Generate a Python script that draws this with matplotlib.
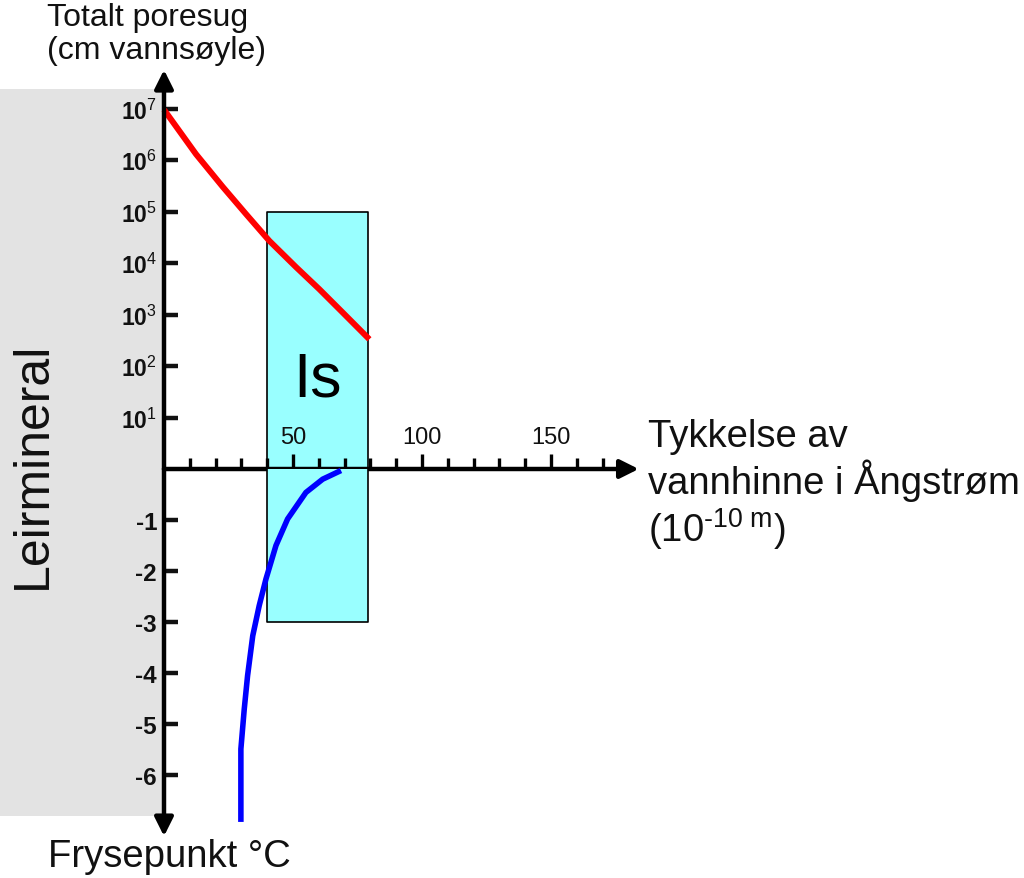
import matplotlib
matplotlib.use("Agg")
import matplotlib.pyplot as plt
from matplotlib.patches import Rectangle
from matplotlib.ticker import NullLocator

plt.rcParams['font.family'] = ['Liberation Sans', 'DejaVu Sans']
plt.rcParams['mathtext.fontset'] = 'custom'
plt.rcParams['mathtext.rm'] = 'Liberation Sans'
plt.rcParams['mathtext.it'] = 'Liberation Sans:italic'
plt.rcParams['mathtext.bf'] = 'Liberation Sans:bold'

# Pore suction (cm water column) vs water film thickness (Angstrom)
suction_x = [0, 12.4, 22.8, 31.8, 40.8, 51.2, 60.2, 69.2, 79.6]
suction_y = [9.5e6, 1.3e6, 3.0e5, 8.9e4, 2.7e4, 8.3e3, 3.1e3, 1.1e3, 330]

# Freezing point (deg C) vs water film thickness (Angstrom)
freeze_x = [68.6, 61.5, 55.0, 47.9, 43.4, 39.5, 36.9, 34.4, 32.4, 31.1, 29.8, 29.8]
freeze_t = [-0.03, -0.2, -0.46, -0.98, -1.50, -2.16, -2.68, -3.27, -4.05, -4.71, -5.49, -6.92]

# Ice zone
ice_x = [40, 79]
ice_suction_top = 1e5
ice_temp_bottom = -3

# Axis ticks
suction_exps = [1, 2, 3, 4, 5, 6, 7]
temp_ticks = [-1, -2, -3, -4, -5, -6]
thick_minor = list(range(10, 180, 10))
thick_major = [50, 100, 150]

W, H = 1024, 879
fig = plt.figure(figsize=(W / 100, H / 100), dpi=100)

# grey clay mineral band
fig.patches.append(Rectangle((0, (H - 817) / H), 164 / W, (817 - 90) / H,
                             transform=fig.transFigure, facecolor='#e3e3e3',
                             edgecolor='none', zorder=-5))

x0, x1 = 164, 646
xmax = (x1 - x0) / 2.58
ax = fig.add_axes([x0 / W, (H - 470) / H, (x1 - x0) / W, 410 / H])
axb = fig.add_axes([x0 / W, (H - 840) / H, (x1 - x0) / W, 370 / H])

for a in (ax, axb):
    a.set_facecolor('none')
    for s in a.spines.values():
        s.set_visible(False)
    a.set_xlim(0, xmax)

ax.set_yscale('log')
ax.set_ylim(1, 10 ** (410 / 51.5))
axb.set_ylim(-370 / 51, 0)

# ice box
ax.add_patch(Rectangle((ice_x[0], 1), ice_x[1] - ice_x[0], ice_suction_top - 1,
                       facecolor='#99ffff', edgecolor='none', zorder=1))
ax.plot([ice_x[0], ice_x[0], ice_x[1], ice_x[1]], [1, ice_suction_top, ice_suction_top, 1],
        color='black', lw=1.2, zorder=1.5, clip_on=False)
axb.add_patch(Rectangle((ice_x[0], ice_temp_bottom), ice_x[1] - ice_x[0], -ice_temp_bottom,
                        facecolor='#99ffff', edgecolor='none', zorder=1))
axb.plot([ice_x[0], ice_x[0], ice_x[1], ice_x[1]], [0, ice_temp_bottom, ice_temp_bottom, 0],
         color='black', lw=1.2, zorder=1.5, clip_on=False)
ax.text(sum(ice_x) / 2, 10 ** 1.75, 'Is', fontsize=45, ha='center', va='center', zorder=5)

# curves
ax.plot(suction_x, suction_y, color='#ff0000', lw=4.3, zorder=3, clip_on=False,
        solid_capstyle='butt', solid_joinstyle='round')
axb.plot(freeze_x, freeze_t, color='#0000ff', lw=4.0, zorder=3, clip_on=False,
         solid_capstyle='butt', solid_joinstyle='round')

# axis lines with arrows
arr = dict(arrowstyle='-|>', lw=3.2, color='black', mutation_scale=28,
           shrinkA=0, shrinkB=0)
ax.annotate('', xy=(0, 10 ** 7.75), xytext=(0, 1), arrowprops=arr,
            annotation_clip=False, zorder=4)
ax.annotate('', xy=(184, 1), xytext=(0, 1), arrowprops=arr,
            annotation_clip=False, zorder=4)
axb.annotate('', xy=(0, -7.2), xytext=(0, 0), arrowprops=arr,
             annotation_clip=False, zorder=4)

# y ticks
ax.yaxis.set_minor_locator(NullLocator())
ax.set_yticks([10 ** e for e in suction_exps])
ax.set_yticklabels([rf'$\mathbf{{10}}^{{\mathrm{{{e}}}}}$' for e in suction_exps],
                   fontsize=16.5, fontweight='bold')
axb.set_yticks(temp_ticks)
axb.set_yticklabels([str(t) for t in temp_ticks], fontsize=17.5, fontweight='bold')
for a in (ax, axb):
    a.tick_params(axis='y', direction='in', length=10, width=3.2, pad=5, colors='#111111')

# x ticks on the thickness axis
ax.set_xticks(thick_major)
ax.set_xticks([v for v in thick_minor if v not in thick_major], minor=True)
ax.set_xticklabels([])
ax.tick_params(axis='x', which='major', direction='in', length=11, width=2.4)
ax.tick_params(axis='x', which='minor', direction='in', length=8, width=2.4)
axb.set_xticks([])
for v in thick_major:
    ax.text(v, 10 ** 0.62, str(v), fontsize=17, ha='center', va='center', color='#111111')

# labels
fig.text(47 / W, 1 - 3 / H, 'Totalt poresug\n(cm vannsøyle)', fontsize=23,
         ha='left', va='top', linespacing=1.12, color='#111111')
fig.text(648 / W, 1 - 419 / H, 'Tykkelse av\nvannhinne i Ångstrøm\n(10$^{\\text{-10 m}}$)',
         fontsize=27.5, ha='left', va='top', linespacing=1.12, color='#111111')
fig.text(48 / W, 1 - 857 / H, 'Frysepunkt °C', fontsize=27.5, ha='left', va='center',
         color='#111111')
fig.text(33 / W, 1 - 465 / H, 'Leirmineral', fontsize=36, rotation=90,
         ha='center', va='center', color='#111111')

fig.savefig('out.png', dpi=100)
